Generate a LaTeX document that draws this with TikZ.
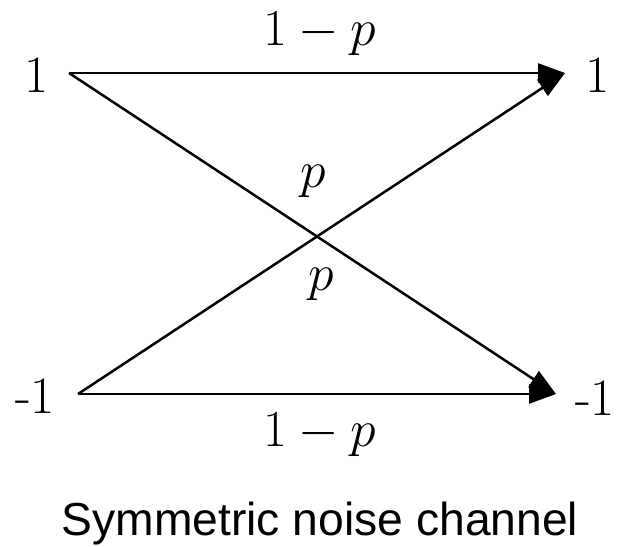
\documentclass[tikz,border=0pt]{standalone}
\usepackage{fontspec}
\newfontfamily\capfont{Liberation Sans}
\usetikzlibrary{arrows.meta,positioning}

\begin{document}
\begin{tikzpicture}[x=0.4pt,y=-0.4pt,
  chan/.style={line width=1pt,-{Triangle[length=10.8pt,width=7.6pt]}},
  lbl/.style={font=\fontsize{21}{25}\selectfont,inner sep=0pt}]
\useasboundingbox (0,0) rectangle (618,546);
% ends of the channel lines
\coordinate (x1) at (69,73);
\coordinate (x0) at (78,394);
\coordinate (y1) at (565,73);
\coordinate (y0) at (556,394);
% input / output symbols
\node[lbl] (in1) at (37,75) {1};
\node[lbl] (in0) at (35,396) {-1};
\node[lbl] (out1) at (598,75) {1};
\node[lbl] (out0) at (595,398) {-1};
% transitions
\draw[chan] (x1) -- (y1);
\draw[chan] (x1) -- (y0);
\draw[chan] (x0) -- (y1);
\draw[chan] (x0) -- (y0);
% probabilities
\node[lbl] (keep1) at (320,34) {$1-p$};
\node[lbl] (flip1) at (313,181) {$p$};
\node[lbl] (flip0) at (321,284) {$p$};
\node[lbl] (keep0) at (320,435) {$1-p$};
% caption
\node[anchor=base,inner sep=0pt,font=\capfont\fontsize{18.5}{22}\selectfont] (title) at (320,535) {Symmetric noise channel};
\end{tikzpicture}
\end{document}
